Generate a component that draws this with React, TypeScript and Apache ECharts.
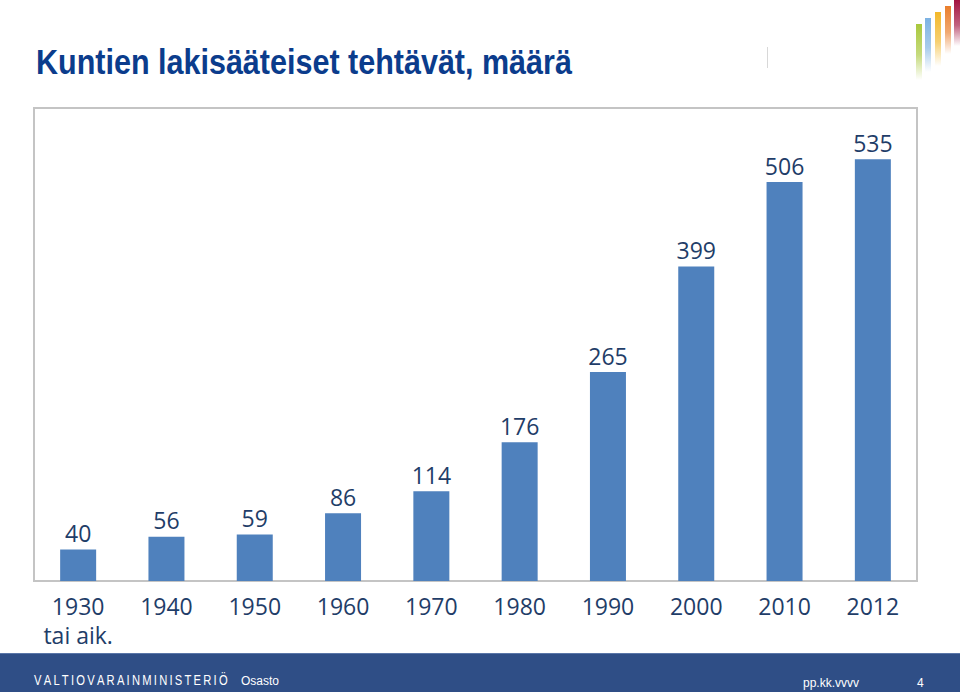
import React, { useEffect, useRef } from "react";
import * as echarts from "echarts";

const categories = ["1930\ntai aik.", "1940", "1950", "1960", "1970", "1980", "1990", "2000", "2010", "2012"];
const counts = [40, 56, 59, 86, 114, 176, 265, 399, 506, 535];
const titleText = "Kuntien lakisääteiset tehtävät, määrä";
const ministryText = "VALTIOVARAINMINISTERIÖ";
const departmentText = "Osasto";
const dateText = "pp.kk.vvvv";
const pageText = "4";

const logoBars = [
  { x: 916, top: 24, bottom: 80, color: "#a9c83c" },
  { x: 925, top: 18, bottom: 72, color: "#7db2e2" },
  { x: 935, top: 12, bottom: 66, color: "#f3b82a" },
  { x: 945, top: 6, bottom: 54, color: "#ea7e2b" },
  { x: 954, top: 0, bottom: 46, color: "#a3123f" },
];

export default function App() {
  const ref = useRef<HTMLDivElement>(null);
  useEffect(() => {
    document.body.style.margin = "0";
    const chart = echarts.init(ref.current!, null, { renderer: "svg" });
    const labelColor = "#1f3d68";
    const font = "'Open Sans', 'Noto Sans', sans-serif";
    chart.setOption({
      animation: false,
      backgroundColor: "#ffffff",
      grid: {
        left: 34,
        right: 43,
        top: 108,
        bottom: 111,
        show: true,
        borderColor: "#c4c4c4",
        borderWidth: 2,
        backgroundColor: "transparent",
      },
      xAxis: {
        type: "category",
        data: categories,
        axisLine: { show: true, lineStyle: { color: "#c4c4c4", width: 2 } },
        axisTick: { show: false },
        axisLabel: {
          color: labelColor,
          fontFamily: font,
          fontSize: 23,
          lineHeight: 29,
          margin: 10,
          interval: 0,
        },
      },
      yAxis: {
        type: "value",
        min: 0,
        max: 600,
        show: false,
        splitLine: { show: false },
      },
      series: [
        {
          type: "bar",
          data: counts,
          barWidth: 36,
          itemStyle: { color: "#4f81bd" },
          label: {
            show: true,
            position: "top",
            distance: 5,
            color: labelColor,
            fontFamily: font,
            fontSize: 23,
          },
        },
      ],
      graphic: [
        {
          type: "text",
          x: 36,
          y: 43.5,
          scaleX: 0.848,
          style: {
            text: titleText,
            fill: "#0b3c8c",
            font: "bold 36px 'Liberation Sans', Arial, sans-serif",
          },
        },
        {
          type: "line",
          shape: { x1: 767.5, y1: 47, x2: 767.5, y2: 68 },
          style: { stroke: "#d8d8d8", lineWidth: 1 },
        },
        ...logoBars.map((b) => ({
          type: "rect",
          shape: { x: b.x, y: b.top, width: 6, height: b.bottom - b.top },
          style: {
            fill: new echarts.graphic.LinearGradient(0, 0, 0, 1, [
              { offset: 0, color: b.color },
              { offset: 0.55, color: b.color + "aa" },
              { offset: 1, color: b.color + "00" },
            ]),
          },
        })),
        {
          type: "rect",
          shape: { x: 0, y: 653, width: 960, height: 39 },
          style: { fill: "#2f4e86" },
        },
        {
          type: "line",
          shape: { x1: 0, y1: 653.5, x2: 960, y2: 653.5 },
          style: { stroke: "#5a76a8", lineWidth: 1 },
        },
        {
          type: "text",
          x: 34,
          y: 681,
          scaleX: 0.8,
          style: {
            text: ministryText.split("").join("\u2009"),
            fill: "#ffffff",
            font: "14px 'Liberation Sans', Arial, sans-serif",
            verticalAlign: "middle",
          },
        },
        {
          type: "text",
          x: 241,
          y: 681,
          style: {
            text: departmentText,
            fill: "#ffffff",
            font: "12px 'Liberation Sans', Arial, sans-serif",
            verticalAlign: "middle",
          },
        },
        {
          type: "text",
          x: 803,
          y: 683,
          style: {
            text: dateText,
            fill: "#ffffff",
            font: "12px 'Liberation Sans', Arial, sans-serif",
            verticalAlign: "middle",
          },
        },
        {
          type: "text",
          x: 917,
          y: 683,
          style: {
            text: pageText,
            fill: "#ffffff",
            font: "12px 'Liberation Sans', Arial, sans-serif",
            verticalAlign: "middle",
          },
        },
      ],
    });
    return () => chart.dispose();
  }, []);
  return (
    <div
      ref={ref}
      style={{ position: "absolute", left: 0, top: 0, width: 960, height: 692 }}
    />
  );
}
